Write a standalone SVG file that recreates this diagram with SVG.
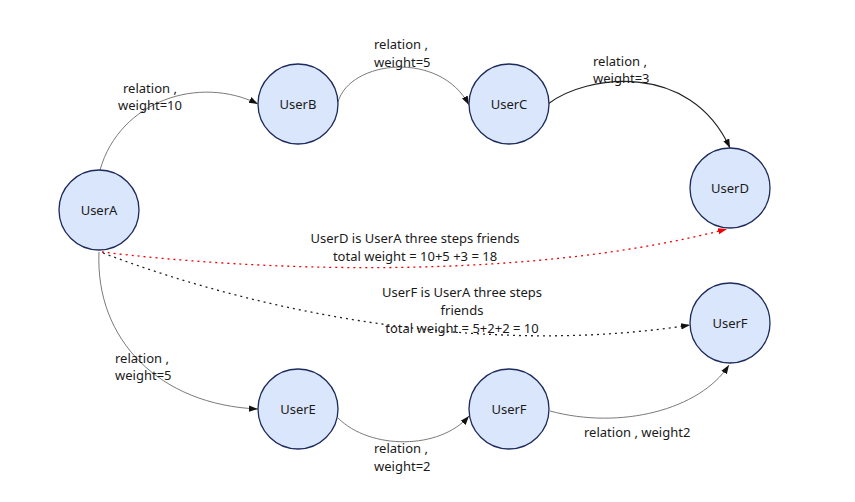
<svg xmlns="http://www.w3.org/2000/svg" width="855" height="502" viewBox="0 0 855 502">
<style>
  .node circle { fill: #dae6fb; stroke: #1c2a5c; stroke-width: 1.3; }
  .node text { font-family: "Noto Sans", "Open Sans", sans-serif; font-size: 13px; fill: #1a1a1a; text-anchor: middle; }
  .lbl { font-family: "Noto Sans", "Open Sans", sans-serif; font-size: 13px; fill: #1a1a1a; }
  .mid { text-anchor: middle; }
  .edge { fill: none; stroke: #6b6b6b; stroke-width: 0.9; marker-end: url(#arr); }
  .edge.dark { stroke: #222; stroke-width: 1.1; }
  .dotred { fill: none; stroke: #f00000; stroke-width: 1.3; stroke-dasharray: 2 4; marker-end: url(#arrRed); }
  .dotblk { fill: none; stroke: #222; stroke-width: 1.3; stroke-dasharray: 2 4; marker-end: url(#arr); }
</style>
<defs>
  <marker id="arr" markerWidth="10" markerHeight="8" refX="9" refY="4" orient="auto" markerUnits="userSpaceOnUse">
    <path d="M0,0.8 L9,4 L0,7.2 Z" fill="#111"/>
  </marker>
  <marker id="arrRed" markerWidth="10" markerHeight="8" refX="9" refY="4" orient="auto" markerUnits="userSpaceOnUse">
    <path d="M0,0.8 L9,4 L0,7.2 Z" fill="#f00000"/>
  </marker>
</defs>
<rect width="855" height="502" fill="#ffffff"/>
<g id="connectors">
  <path class="edge" d="M100,170 C120,100 200,75 258,104"/>
  <path class="edge" d="M338,102 C350,60 440,50 469,105"/>
  <path class="edge dark" d="M548,104 C585,75 690,60 730,148"/>
  <path class="dotred" d="M102,252 C250,270 520,283 727,229"/>
  <path class="dotblk" d="M103,253 C280,320 500,355 690,325"/>
  <path class="edge" d="M99,252 C95,340 160,405 258,409"/>
  <path class="edge" d="M338,418 C370,450 440,450 469,416"/>
  <path class="edge" d="M550,411 C620,430 700,410 729,365"/>
  <text class="lbl" x="123" y="93">relation ,</text>
  <text class="lbl" x="118" y="110">weight=10</text>
  <text class="lbl" x="374" y="49">relation ,</text>
  <text class="lbl" x="374" y="67">weight=5</text>
  <text class="lbl" x="593" y="66">relation ,</text>
  <text class="lbl" x="593" y="83">weight=3</text>
  <text class="lbl mid" x="415" y="243">UserD is UserA three steps friends</text>
  <text class="lbl mid" x="415" y="261">total weight = 10+5 +3 = 18</text>
  <text class="lbl mid" x="462" y="297">UserF is UserA three steps</text>
  <text class="lbl mid" x="462" y="315">friends</text>
  <text class="lbl mid" x="462" y="333">total weight = 5+2+2 = 10</text>
  <text class="lbl" x="115" y="363">relation ,</text>
  <text class="lbl" x="115" y="380">weight=5</text>
  <text class="lbl" x="374" y="453">relation ,</text>
  <text class="lbl" x="374" y="471">weight=2</text>
  <text class="lbl" x="584" y="437">relation , weight2</text>
</g>
<g id="UserA" class="node"><circle cx="99" cy="210" r="40"/><text x="99" y="215">UserA</text></g>
<g id="UserB" class="node"><circle cx="298" cy="104" r="40"/><text x="298" y="109">UserB</text></g>
<g id="UserC" class="node"><circle cx="509" cy="104" r="40"/><text x="509" y="109">UserC</text></g>
<g id="UserD" class="node"><circle cx="730" cy="188" r="40"/><text x="730" y="193">UserD</text></g>
<g id="UserF1" class="node"><circle cx="730" cy="323" r="40"/><text x="730" y="328">UserF</text></g>
<g id="UserE" class="node"><circle cx="298" cy="409" r="40"/><text x="298" y="414">UserE</text></g>
<g id="UserF2" class="node"><circle cx="509" cy="409" r="40"/><text x="509" y="414">UserF</text></g>
</svg>
